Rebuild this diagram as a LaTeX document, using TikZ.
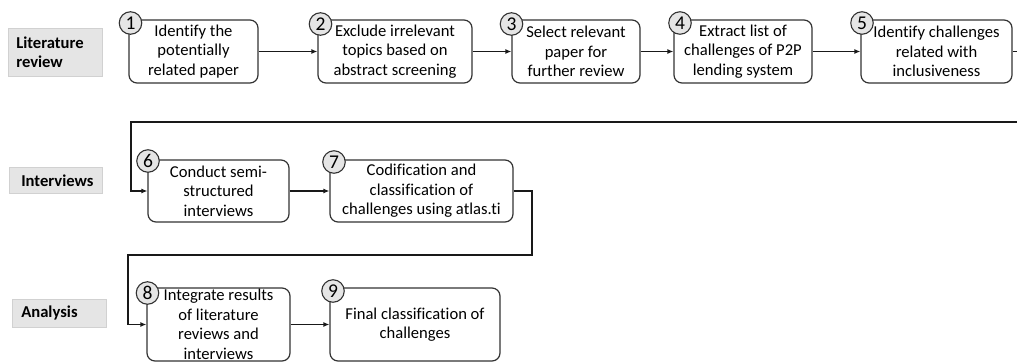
\documentclass[tikz,border=0pt]{standalone}
\usepackage{fontspec}
\setmainfont[Ligatures=NoCommon]{Carlito}
\usetikzlibrary{arrows.meta}
\begin{document}
\begin{tikzpicture}[x=1pt,y=-1pt,
  stepbox/.style={draw=black!80, line width=1.2pt, rounded corners=8pt, align=center,
    font=\fontsize{16.6}{19.5}\selectfont, inner sep=0pt, anchor=center, minimum height=63pt},
  steptext/.style={align=center, font=\fontsize{16.6}{19.5}\selectfont, inner sep=0pt, anchor=center},
  num/.style={circle, draw=black!80, line width=1.1pt, fill=black!10, minimum size=22.5pt,
    inner sep=0pt, font=\fontsize{19.5}{19.5}\selectfont},
  lab/.style={fill=black!10, draw=black!18, line width=0.6pt, font=\bfseries\fontsize{16.6}{19.5}\selectfont,
    align=left, anchor=north west, inner ysep=0pt},
  conn/.style={line width=1.2pt, draw=black!90},
  arr/.style={conn, -{Latex[length=6pt,width=5pt]}}
]
\useasboundingbox (0,0) rectangle (1017,362);
\clip (0,0) rectangle (1017,362);

% phase labels
\node[lab, minimum width=94pt, minimum height=48pt, inner xsep=8pt, text width=78pt] (L1) at (8,28) {Literature\\review};
\node[lab, minimum width=93pt, minimum height=26pt, inner xsep=12pt, text width=69pt] (L2) at (9,167) {Interviews};
\node[lab, minimum width=94pt, minimum height=28pt, inner xsep=9pt, text width=76pt] (L3) at (12,299) {Analysis};

% row 1
\node[stepbox, minimum width=129pt] (b1) at (193.5,51.5) {Identify the\\potentially\\related paper};
\node[stepbox, minimum width=154pt] (b2) at (395,51.5) {Exclude irrelevant\\topics based on\\abstract screening};
\node[stepbox, minimum width=128pt] (b3) at (576,51.5) {Select relevant\\paper for\\further review};
\node[stepbox, minimum width=138pt] (b4) at (743,51.5) {Extract list of\\challenges of P2P\\lending system};
\node[stepbox, minimum width=151pt] (b5) at (936.5,51.5) {Identify challenges\\related with\\inclusiveness};

% row 2
\node[stepbox, minimum width=141pt, minimum height=62pt] (b6) at (218.5,191) {Conduct semi-\\structured\\interviews};
\node[stepbox, minimum width=183pt, minimum height=62pt] (b7) at (421.5,191) {Codification and\\classification of\\challenges using atlas.ti};

% row 3
\node[stepbox, minimum width=143pt, minimum height=73pt] (b8) at (218.5,324.5) {};
\node[steptext] (t8) at (b8.center) {Integrate results\\of literature\\reviews and\\interviews};
\node[stepbox, minimum width=170pt, minimum height=73pt] (b9) at (415,324.5) {Final classification of\\challenges};

% numbers
\node[num] (n1) at (130.5,23) {1};
\node[num] (n2) at (320.5,24) {2};
\node[num] (n3) at (511.5,24) {3};
\node[num] (n4) at (680,23) {4};
\node[num] (n5) at (862,23) {5};
\node[num] (n6) at (148,161) {6};
\node[num] (n7) at (334,162) {7};
\node[num] (n8) at (147.5,293) {8};
\node[num] (n9) at (333,291) {9};

% connectors
\draw[arr] (b1) -- (b2);
\draw[arr] (b2) -- (b3);
\draw[arr] (b3) -- (b4);
\draw[arr] (b4) -- (b5);
\coordinate (e1) at (1040,51.5);
\coordinate (e2) at (131,122);
\draw[arr] (b5.east) -- (e1) |- (e2) |- (b6.west);
\draw[arr] (b6) -- (b7);
\coordinate (f1) at (532,255);
\coordinate (f2) at (128,255);
\draw[arr] (b7.east) -| (f1) -- (f2) |- (b8.west);
\draw[arr] (b8) -- (b9);
\end{tikzpicture}
\end{document}
